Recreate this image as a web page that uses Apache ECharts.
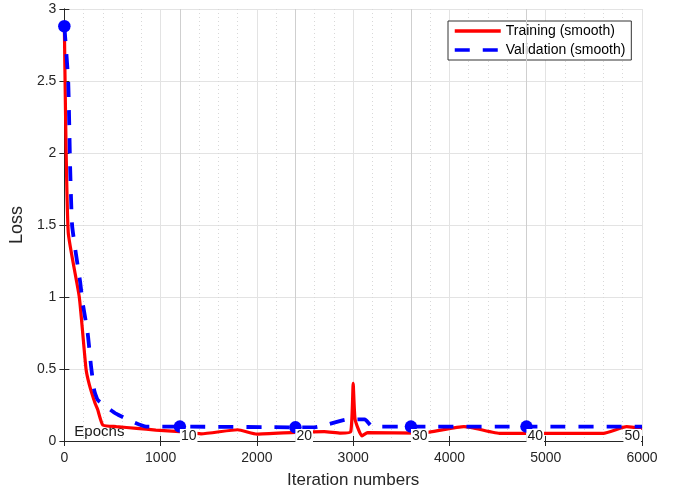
<!DOCTYPE html>
<html>
<head>
<meta charset="utf-8">
<script src="https://cdn.jsdelivr.net/npm/echarts@6/dist/echarts.min.js"></script>
<style>
html,body{margin:0;padding:0;background:#fff;}
#chart{width:683px;height:495px;}
</style>
</head>
<body>
<div id="chart"></div>
<script>
// Training (smooth) curve
const trainIter = [0, 40, 155, 225, 260, 320, 345, 400, 540, 750, 950, 1200, 1420, 1800, 2000, 2400, 2700, 2870, 2975, 3000, 3020, 3090, 3150, 3700, 4150, 4220, 4520, 5600, 5840, 6000];
const trainLoss = [2.88, 1.45, 1.0, 0.5, 0.39, 0.26, 0.22, 0.11, 0.1, 0.088, 0.076, 0.065, 0.05, 0.078, 0.048, 0.06, 0.065, 0.055, 0.065, 0.4, 0.15, 0.035, 0.058, 0.055, 0.1, 0.095, 0.053, 0.053, 0.1, 0.088];
// Validation (smooth) curve
const valIter = [0, 40, 60, 80, 120, 165, 190, 242, 277, 311, 346, 432, 536, 708, 850, 1200, 2400, 2600, 2950, 3120, 3200, 3600, 4800, 6000];
const valLoss = [2.88, 2.5, 1.9, 1.5, 1.3, 1.1, 0.96, 0.75, 0.52, 0.35, 0.285, 0.24, 0.19, 0.134, 0.1, 0.1, 0.095, 0.095, 0.15, 0.15, 0.1, 0.1, 0.1, 0.1];
// Validation markers at epoch boundaries
const markerIter = [0, 1200, 2400, 3600, 4800];
const markerLoss = [2.88, 0.1, 0.095, 0.1, 0.1];
// Epoch annotations
const epochIter = [1200, 2400, 3600, 4800, 6000];
const epochLabel = ['10', '20', '30', '40', '50'];

const zip = (a, b) => a.map((v, i) => [v, b[i]]);
const FONT = 'Liberation Sans';
const AX = '#262626';

const chart = echarts.init(document.getElementById('chart'), null, {renderer: 'canvas'});

const epochData = epochIter.map((x, i) => ({
  value: [x, 0],
  label: {
    formatter: epochLabel[i],
    position: i === epochIter.length - 1 ? [-1, -12] : [0, -12],
    align: i === epochIter.length - 1 ? 'right' : 'left'
  }
}));

chart.setOption({
  animation: false,
  backgroundColor: '#fff',
  textStyle: {fontFamily: FONT},
  grid: {left: 63, right: 41, top: 9, bottom: 54, containLabel: false},
  legend: {
    left: 448, top: 21,
    orient: 'vertical',
    padding: [3, 6, 3, 5],
    itemWidth: 46, itemHeight: 14, itemGap: 5,
    backgroundColor: '#fff',
    borderColor: '#333', borderWidth: 1,
    itemStyle: {opacity: 0, borderWidth: 0},
    lineStyle: {width: 3.5},
    textStyle: {fontFamily: FONT, fontSize: 14, color: '#000'},
    data: ['Training (smooth)', 'Validation (smooth)']
  },
  xAxis: [{
    type: 'value', min: 0, max: 6000, interval: 1000,
    position: 'bottom',
    name: 'Iteration numbers', nameLocation: 'middle', nameGap: 31,
    nameTextStyle: {fontFamily: FONT, fontSize: 17, color: AX},
    axisLine: {show: true, lineStyle: {color: AX, width: 1}},
    axisTick: {show: true, inside: true, length: 5, lineStyle: {color: AX}},
    axisLabel: {fontFamily: FONT, fontSize: 14, color: AX, margin: 10, formatter: v => String(v)},
    splitLine: {show: true, lineStyle: {color: '#e3e3e3', width: 1}},
    minorTick: {show: false, splitNumber: 5},
    minorSplitLine: {show: true, lineStyle: {color: '#d8d8d8', type: [1, 3], width: 1}}
  }, {
    type: 'value', min: 0, max: 6000, interval: 1000,
    position: 'top',
    axisLine: {show: true, lineStyle: {color: AX, width: 1}},
    axisTick: {show: true, inside: true, length: 5, lineStyle: {color: AX}},
    axisLabel: {show: false},
    splitLine: {show: false}
  }],
  yAxis: [{
    type: 'value', min: 0, max: 3, interval: 0.5,
    position: 'left',
    name: 'Loss', nameLocation: 'middle', nameGap: 35, nameRotate: 90,
    nameTextStyle: {fontFamily: FONT, fontSize: 18, color: AX},
    axisLine: {show: true, lineStyle: {color: AX, width: 1}},
    axisTick: {show: true, inside: true, length: 5, lineStyle: {color: AX}},
    axisLabel: {fontFamily: FONT, fontSize: 14, color: AX, margin: 8},
    splitLine: {show: true, lineStyle: {color: '#e3e3e3', width: 1}}
  }, {
    type: 'value', min: 0, max: 3, interval: 0.5,
    position: 'right',
    axisLine: {show: true, lineStyle: {color: AX, width: 1}},
    axisTick: {show: true, inside: true, length: 5, lineStyle: {color: AX}},
    axisLabel: {show: false},
    splitLine: {show: false}
  }],
  series: [
    {
      name: 'epochGrid',
      type: 'line',
      data: [],
      silent: true,
      z: 1,
      markLine: {
        silent: true,
        symbol: 'none',
        label: {show: false},
        lineStyle: {color: '#cfcfcf', type: 'solid', width: 1},
        data: epochIter.slice(0, 4).map(x => ({xAxis: x}))
      }
    },
    {
      name: 'Training (smooth)',
      type: 'line',
      data: zip(trainIter, trainLoss),
      showSymbol: false, symbol: 'none',
      smooth: 0.15,
      lineStyle: {color: '#ff0000', width: 3.2},
      itemStyle: {color: '#ff0000'},
      z: 3
    },
    {
      name: 'Validation (smooth)',
      type: 'line',
      data: zip(valIter, valLoss),
      showSymbol: false, symbol: 'none',
      smooth: 0.15,
      lineStyle: {color: '#0000ff', width: 3.8, type: [15, 13], cap: 'butt'},
      itemStyle: {color: '#0000ff'},
      z: 4
    },
    {
      name: 'valMarkers',
      type: 'scatter',
      data: zip(markerIter, markerLoss),
      symbol: 'circle', symbolSize: 12.5,
      itemStyle: {color: '#0000ff', opacity: 1},
      z: 5, silent: true
    },
    {
      name: 'epochLabels',
      type: 'scatter',
      data: epochData,
      symbolSize: 0,
      silent: true,
      z: 6,
      itemStyle: {opacity: 1},
      label: {
        show: true,
        verticalAlign: 'top',
        fontFamily: FONT, fontSize: 14, color: '#1a1a1a', opacity: 1,
        backgroundColor: '#fff',
        padding: [0, 1]
      }
    },
    {
      name: 'epochsTitle',
      type: 'scatter',
      data: [[0, 0]],
      symbolSize: 0,
      silent: true,
      z: 2,
      itemStyle: {opacity: 1},
      label: {
        show: true,
        formatter: 'Epochs',
        position: [10, -17],
        align: 'left', verticalAlign: 'top',
        fontFamily: FONT, fontSize: 15, color: '#1a1a1a', opacity: 1
      }
    }
  ]
});
</script>
</body>
</html>
